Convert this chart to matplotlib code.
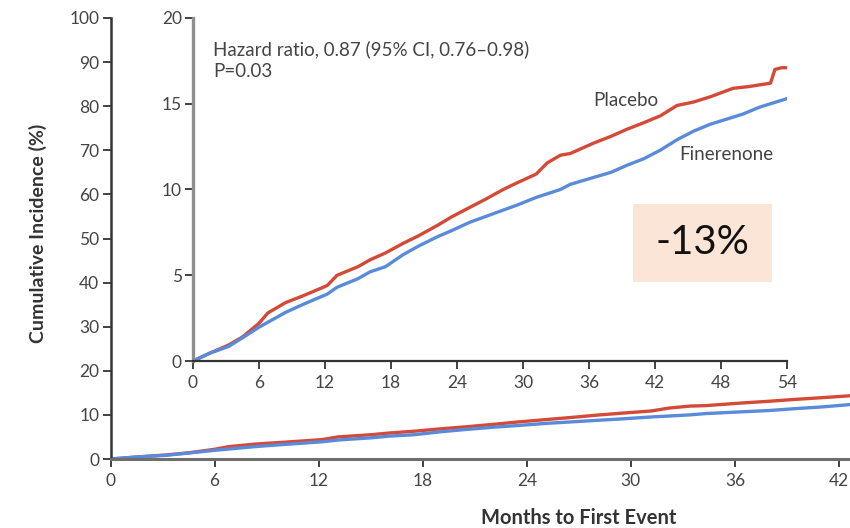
import matplotlib
matplotlib.use("Agg")
import matplotlib.pyplot as plt
from matplotlib.patches import Rectangle

# ---- data ----
placebo_months = [0, 1.5, 3.2, 4.5, 6.0, 6.8, 8.4, 10.0, 12.2, 13.1, 15.0, 16.1, 17.5,
                  19.1, 20.5, 22.2, 23.5, 25.2, 26.5, 28.2, 29.5, 31.2, 32.2, 33.4,
                  34.3, 36.4, 38.0, 39.4, 41.0, 42.5, 44.0, 45.5, 47.0, 49.1, 50.5,
                  52.5, 52.9, 53.5, 54.0]
placebo_values = [0, 0.45, 0.92, 1.4, 2.2, 2.8, 3.4, 3.8, 4.4, 5.0, 5.5, 5.9, 6.3,
                  6.86, 7.3, 7.9, 8.4, 8.97, 9.4, 10.0, 10.4, 10.9, 11.55, 12.0,
                  12.1, 12.7, 13.1, 13.5, 13.9, 14.3, 14.9, 15.1, 15.4, 15.9, 16.0,
                  16.2, 17.0, 17.1, 17.1]

finerenone_months = [0, 1.5, 3.2, 4.5, 6.0, 8.4, 10.0, 12.2, 13.1, 15.0, 16.1, 17.5,
                     19.1, 20.5, 22.2, 23.5, 25.2, 26.5, 28.2, 29.5, 31.2, 33.4, 34.3,
                     36.4, 38.0, 39.4, 41.0, 42.5, 44.0, 45.5, 47.0, 48.5, 50.0, 51.5,
                     53.0, 54.0]
finerenone_values = [0, 0.45, 0.84, 1.35, 1.97, 2.83, 3.3, 3.9, 4.3, 4.8, 5.2, 5.5,
                     6.2, 6.7, 7.24, 7.6, 8.1, 8.4, 8.8, 9.1, 9.54, 10.0, 10.3,
                     10.7, 11.0, 11.4, 11.8, 12.3, 12.9, 13.4, 13.8, 14.1, 14.4, 14.8,
                     15.1, 15.3]

outer_yticks = [0, 10, 20, 30, 40, 50, 60, 70, 80, 90, 100]
outer_xticks = [0, 6, 12, 18, 24, 30, 36, 42]
inset_yticks = [0, 5, 10, 15, 20]
inset_xticks = [0, 6, 12, 18, 24, 30, 36, 42, 48, 54]

RED = "#D44A37"
BLUE = "#5A8BDA"
TXT = "#444444"
FONT = ["Lato", "DejaVu Sans"]

plt.rcParams["font.family"] = FONT

W, H = 850, 528
fig = plt.figure(figsize=(W / 100, H / 100), dpi=100)

def fx(px):
    return px / W

def fy(py):
    return 1 - py / H

# ---- outer axes ----
x0, x42 = 110.5, 839.0
ppm = (x42 - x0) / 42
ax = fig.add_axes([fx(x0), fy(459), fx(W - x0), fy(18) - fy(459)])
ax.plot(placebo_months, placebo_values, color=RED, lw=2.4, clip_on=True)
ax.plot(finerenone_months, finerenone_values, color=BLUE, lw=2.4, clip_on=True)
ax.set_xlim(0, (W - x0) / ppm)
ax.set_ylim(0, 100)
ax.set_xticks(outer_xticks)
ax.set_yticks(outer_yticks)
for s in ["top", "right"]:
    ax.spines[s].set_visible(False)
ax.spines["left"].set_color("#333333")
ax.spines["left"].set_linewidth(1.8)
ax.spines["bottom"].set_color("#6e6e6e")
ax.spines["bottom"].set_linewidth(2.2)
ax.tick_params(axis="both", direction="out", length=6, width=1.3, colors="#333333",
               labelcolor=TXT, labelsize=12.5, pad=2)
ax.tick_params(axis="x", pad=4)
ax.set_facecolor("none")

# ---- inset axes ----
ix0, ix54 = 193.0, 787.0
ins = fig.add_axes([fx(ix0), fy(361), fx(ix54 - ix0), fy(18) - fy(361)])
ins.plot(placebo_months, placebo_values, color=RED, lw=2.4)
ins.plot(finerenone_months, finerenone_values, color=BLUE, lw=2.4)
ins.set_xlim(0, 54)
ins.set_ylim(0, 20)
ins.set_xticks(inset_xticks)
ins.set_yticks(inset_yticks)
for s in ["top", "right"]:
    ins.spines[s].set_visible(False)
ins.spines["left"].set_color("#8f8f8f")
ins.spines["left"].set_linewidth(2.4)
ins.spines["bottom"].set_color("#333333")
ins.spines["bottom"].set_linewidth(1.6)
ins.tick_params(axis="both", direction="out", length=6, width=1.3, colors="#333333",
                labelcolor=TXT, labelsize=12.5, pad=2)
ins.tick_params(axis="x", pad=4)
ins.set_facecolor("none")

# annotations in inset
fig.text(fx(213), fy(60), "Hazard ratio, 0.87 (95% CI, 0.76\u20130.98)\nP=0.03",
         fontsize=13.5, color=TXT, va="center", ha="left", linespacing=1.3)
fig.text(fx(626), fy(100), "Placebo", fontsize=13.5, color=TXT, ha="center", va="center")
fig.text(fx(726), fy(155), "Finerenone", fontsize=13.5, color=TXT, ha="center", va="center")

# -13% box
fig.patches.append(Rectangle((fx(633), fy(282)), fx(772 - 633), fy(204) - fy(282),
                             transform=fig.transFigure, facecolor="#FBE5D6",
                             edgecolor="none", zorder=5))
fig.text(fx(702), fy(243), "-13%", fontsize=29, color="#111111", ha="center",
         va="center", zorder=6)

# axis labels
fig.text(fx(38), fy(233), "Cumulative Incidence (%)", rotation=90, fontsize=14,
         fontweight="bold", color="#333333", ha="center", va="center")
fig.text(fx(579), fy(518), "Months to First Event", fontsize=14.5,
         fontweight="bold", color="#333333", ha="center", va="center")

fig.savefig("out.png", dpi=100)
